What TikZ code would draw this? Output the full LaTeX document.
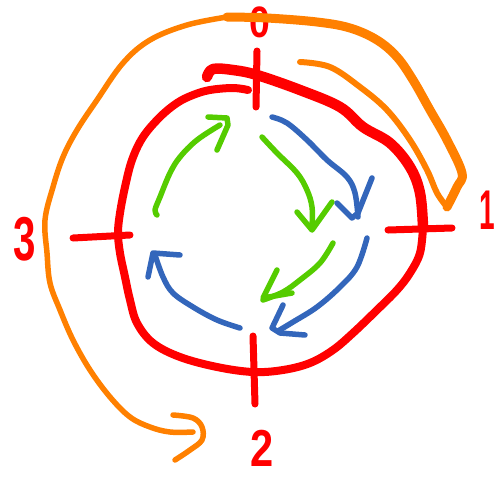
\documentclass[tikz,border=0pt]{standalone}
\usepackage{fontspec}
\setmainfont{Liberation Sans}
\definecolor{pred}{HTML}{FF0000}
\definecolor{porange}{HTML}{FF8000}
\definecolor{pblue}{HTML}{3366BB}
\definecolor{pgreen}{HTML}{55CC00}
\begin{document}
\begin{tikzpicture}[x=1pt,y=-1pt,line cap=round,line join=round,
  redpen/.style={draw=pred,line width=8pt},
  orpen/.style={draw=porange,line width=5.5pt},
  bluepen/.style={draw=pblue,line width=5.5pt},
  greenpen/.style={draw=pgreen,line width=5.5pt},
  digit/.style={text=pred,inner sep=0pt,font=\bfseries}]
\useasboundingbox (0,0) rectangle (497,477);
% red ring
\draw[redpen,line width=10.5pt] plot[smooth,tension=0.6] coordinates {(207,77) (213,69) (233,70) (257,75) (300,90) (340,107) (363,127) (390,143) (410,167) (420,193) (423,227)};
\draw[redpen] plot[smooth,tension=0.6] coordinates {(423,227) (420,253) (410,273) (397,290) (377,310) (353,333) (333,350) (310,363) (283,370) (253,372) (217,367) (180,357) (153,343) (137,323) (130,300) (125,277) (120,253) (118,233) (120,213) (125,187) (132,160) (143,137) (160,117) (177,103) (193,95) (210,90) (233,88) (248,90)};
% ticks
\draw[redpen,line width=7pt] (257,51) -- (256,107);
\draw[redpen,line width=7pt] (388,230) -- (452,228);
\draw[redpen,line width=7pt] (253,336) -- (255,404);
\draw[redpen,line width=7pt] (73,238) -- (130,235);
% labels
\node[digit,font=\bfseries\fontsize{44}{44}\selectfont,xscale=0.85] (l0) at (260,22) {0};
\node[digit,font=\bfseries\fontsize{56}{56}\selectfont,xscale=0.5] (l1) at (487,210) {1};
\node[digit,font=\bfseries\fontsize{52}{52}\selectfont,xscale=0.8] (l2) at (262,448) {2};
\node[digit,font=\bfseries\fontsize{62}{62}\selectfont,xscale=0.65] (l3) at (25,239) {3};
% orange
\draw[orpen] plot[smooth,tension=0.6] coordinates {(193,432) (170,432) (150,427) (130,417) (110,397) (90,370) (73,340) (60,310) (50,283) (47,253) (45,220) (53,187) (63,157) (77,130) (97,100) (123,63) (150,40) (187,25) (227,17)};
\draw[orpen,line width=9pt] plot[smooth,tension=0.6] coordinates {(227,17) (267,18) (317,22) (350,28) (377,40) (397,57) (413,80) (430,110) (447,140) (462,173) (457,187) (447,207)};
\draw[orpen,line width=6pt] plot[smooth,tension=0.6] coordinates {(447,207) (437,193) (427,170) (410,140) (387,110) (360,87) (330,67) (300,62)};
\draw[orpen] plot[smooth,tension=0.6] coordinates {(173,415) (193,418) (202,427) (202,440) (190,450) (175,460)};
% green arrows
\draw[greenpen] plot[smooth,tension=0.6] coordinates {(157,215) (155,210) (160,197) (170,173) (180,157) (197,140) (220,125)};
\draw[greenpen] (208,117) -- (227,118) -- (228,125) -- (217,150);
\draw[greenpen] plot[smooth,tension=0.6] coordinates {(262,137) (277,153) (297,173) (307,190) (312,207) (312,227)};
\draw[greenpen] (297,212) -- (312,230) -- (332,202);
\draw[greenpen] plot[smooth,tension=0.6] coordinates {(333,243) (320,263) (300,280) (283,292) (263,300)};
\draw[greenpen] (277,270) -- (263,298) -- (292,293);
% blue arrows
\draw[bluepen] plot[smooth,tension=0.6] coordinates {(272,117) (287,123) (307,140) (327,160) (347,177) (355,193) (358,217)};
\draw[bluepen] (337,203) -- (352,218) -- (358,213) -- (372,178);
\draw[bluepen] plot[smooth,tension=0.6] coordinates {(367,238) (357,267) (340,287) (317,307) (293,322) (278,331)};
\draw[bluepen] (283,305) -- (272,328) -- (280,333) -- (305,335);
\draw[bluepen] plot[smooth,tension=0.6] coordinates {(240,328) (217,320) (193,307) (173,293) (163,277) (155,255)};
\draw[bluepen] (148,277) -- (153,253) -- (180,255);
\end{tikzpicture}
\end{document}
